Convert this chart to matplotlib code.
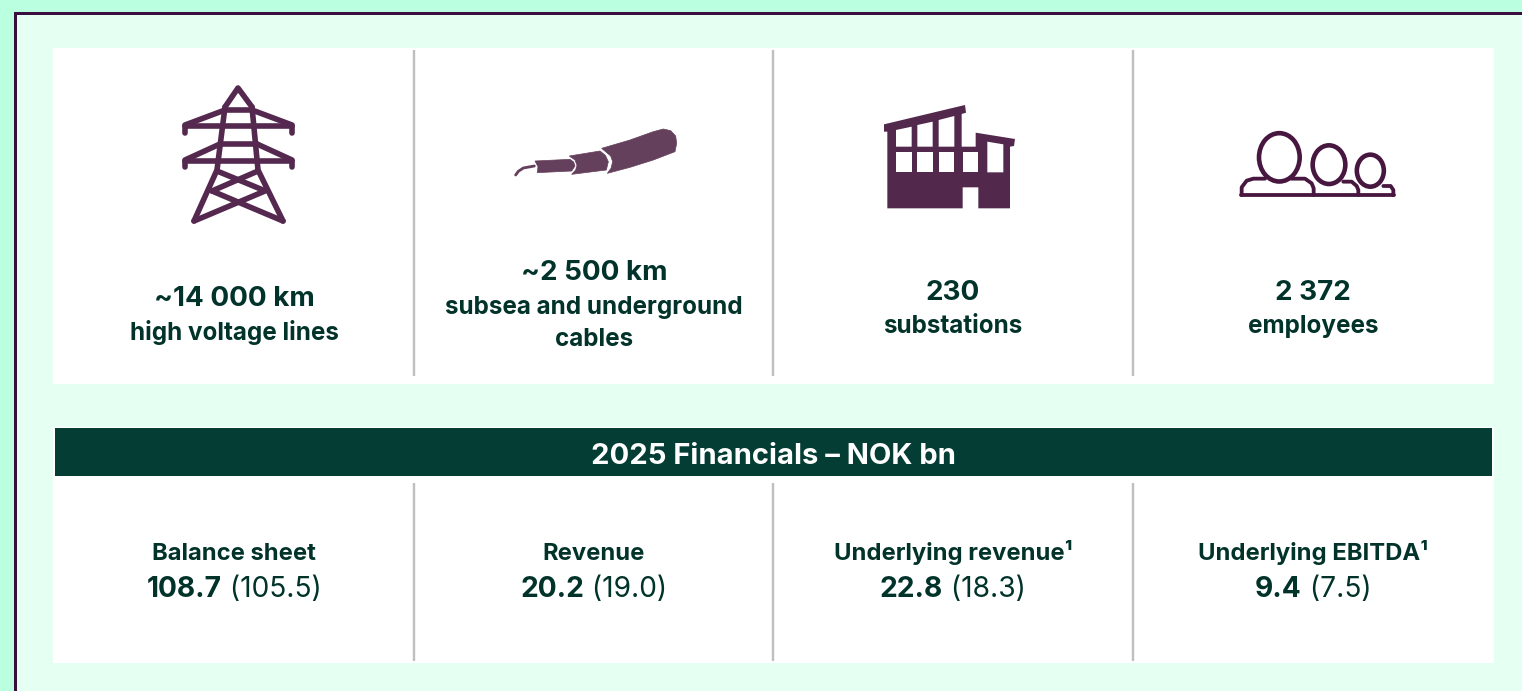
import matplotlib
matplotlib.use("Agg")
import matplotlib.pyplot as plt
from matplotlib.patches import Rectangle, Polygon, Ellipse

# ---- content ----
asset_values = ["~14 000 km", "~2 500 km", "230", "2 372"]
asset_labels = [["high voltage lines"], ["subsea and underground", "cables"], ["substations"], ["employees"]]
band_title = "2025 Financials – NOK bn"
fin_labels = ["Balance sheet", "Revenue", "Underlying revenue¹", "Underlying EBITDA¹"]
fin_current = ["108.7", "20.2", "22.8", "9.4"]
fin_previous = ["(105.5)", "(19.0)", "(18.3)", "(7.5)"]

# ---- style ----
W, H = 1522, 691
OUTER, INNER, FRAME = "#B9FFE0", "#E5FFF3", "#3A0F3F"
GREEN, DIV = "#02332A", "#BFBFBF"
FONT = "Inter"
PX = 72 / 100  # px -> pt
CX = [234, 594, 953, 1313]
DX = [414, 773, 1133]

fig = plt.figure(figsize=(W / 100, H / 100), dpi=100, facecolor=OUTER)
ax = fig.add_axes([0, 0, 1, 1])
ax.set_xlim(0, W)
ax.set_ylim(H, 0)
ax.axis("off")


def rect(x0, y0, x1, y1, fc, ec="none", lw=0, z=1):
    ax.add_patch(Rectangle((x0, y0), x1 - x0, y1 - y0, fc=fc, ec=ec, lw=lw, zorder=z))


rect(14.6, 12.8, W + 20, H + 20, INNER, FRAME, 3 * PX)
rect(53, 48, 1494, 384, "white", z=2)
rect(53, 427, 1494, 663, "white", z=2)
rect(55, 428, 1492, 476, "#033D33", z=3)
for x in DX:
    ax.plot([x, x], [50, 376], color=DIV, lw=2.4 * PX, zorder=3, solid_capstyle="butt")
    ax.plot([x, x], [483, 661], color=DIV, lw=2.4 * PX, zorder=3, solid_capstyle="butt")

# ---- icons (traced in zoomed-crop units: 3x, with an origin) ----
def tr(pts, ox, oy):
    return [(ox + a / 3, oy + b / 3) for a, b in pts]


def line(pts, c, lw):
    xs, ys = zip(*pts)
    ax.plot(xs, ys, color=c, lw=lw * PX, solid_capstyle="round", solid_joinstyle="round", zorder=4)


TOWER = "#55294F"
for seg in [
    [(225, 107), (238, 88), (252, 107)],
    [(225, 107), (217, 170), (194, 221)],
    [(252, 107), (258, 170), (283, 221)],
    [(225, 110), (252, 110)],
    [(225, 110), (185, 125), (185, 133)],
    [(252, 110), (292, 125), (292, 133)],
    [(185, 126), (292, 126)],
    [(220, 144), (257, 144)],
    [(220, 144), (185, 160), (185, 167)],
    [(257, 144), (292, 160), (292, 167)],
    [(185, 161), (292, 161)],
    [(217, 171), (263, 190)],
    [(258, 171), (212, 191)],
    [(212, 191), (283, 221)],
    [(265, 191), (194, 221)],
]:
    line(seg, TOWER, 5.6)

CABLE = "#65405C"
for poly in [
    [(365, 175), (450, 150), (520, 125), (550, 117), (572, 122), (587, 138), (590, 160), (585, 185), (520, 210),
     (450, 232), (382, 250), (393, 235), (398, 215), (392, 198)],
    [(268, 198), (360, 183), (376, 196), (385, 215), (379, 240), (275, 253), (287, 240), (291, 226), (285, 210)],
    [(165, 213), (270, 208), (281, 216), (285, 228), (275, 243), (172, 248), (174, 230)],
]:
    ax.add_patch(Polygon(tr(poly, 480, 90), closed=True, fc=CABLE, ec=CABLE, lw=0.5, joinstyle="round", zorder=4))
line(tr([(107, 255), (115, 244), (130, 234), (163, 228)], 480, 90), CABLE, 2.8)

BLD = "#52284C"
ax.add_patch(Polygon(tr([(72, 103), (315, 45), (318, 68), (305, 72), (305, 170), (347, 170), (347, 128),
                         (465, 147), (462, 168), (450, 170), (450, 355), (355, 355), (355, 292), (308, 292),
                         (308, 355), (82, 355), (82, 125), (72, 125)], 860, 90),
                     closed=True, fc=BLD, ec="none", zorder=4))
for win in [
    [(108, 120), (155, 110), (155, 170), (108, 170)],
    [(172, 105), (218, 95), (218, 170), (172, 170)],
    [(236, 90), (283, 78), (283, 170), (236, 170)],
    [(108, 187), (155, 187), (155, 247), (108, 247)],
    [(172, 187), (218, 187), (218, 247), (172, 247)],
    [(236, 187), (283, 187), (283, 247), (236, 247)],
    [(308, 187), (355, 187), (355, 247), (308, 247)],
    [(382, 155), (430, 163), (430, 247), (382, 247)],
]:
    ax.add_patch(Polygon(tr(win, 860, 90), closed=True, fc="white", ec="none", zorder=5))

PPL = "#47173F"
for (a, b, w, h) in [(178, 142, 122, 145), (327, 164, 98, 116), (451, 182, 81, 96)]:
    (x, y), = tr([(a, b)], 1220, 110)
    ax.add_patch(Ellipse((x, y), w / 3, h / 3, fc="white", ec=PPL, lw=4.6 * PX, zorder=6))
for seg in [
    [(62, 255), (522, 255)],
    [(65, 255), (65, 232), (80, 212), (100, 206), (135, 206)],
    [(215, 206), (255, 206), (275, 220), (281, 235), (281, 255)],
    [(370, 215), (395, 215), (410, 228), (415, 240), (415, 255)],
    [(490, 228), (512, 228), (520, 240), (520, 255)],
]:
    line(tr(seg, 1220, 110), PPL, 3.8)

# ---- text ----
LARGE = 27.8 * PX
MID = 24.2 * PX
FIN_LBL = 23.8 * PX
FIN_VAL = 28.2 * PX


def txt(x, y, s, size, weight="bold", c=GREEN, ha="center"):
    return ax.text(x, y, s, fontsize=size, fontweight=weight, color=c, ha=ha, va="baseline",
                   family=FONT, zorder=7)


val_base = [306, 280, 300, 300]
lbl_base = [[340], [314, 346], [333], [333]]
for x, v, ls, vy, lys in zip(CX, asset_values, asset_labels, val_base, lbl_base):
    txt(x, vy, v, LARGE)
    for l, ly in zip(ls, lys):
        txt(x, ly, l, MID)

txt(773, 464, band_title, 29.2 * PX, c="white")

rend = fig.canvas.get_renderer()
for x, lab, cur, prev in zip(CX, fin_labels, fin_current, fin_previous):
    txt(x, 560, lab, FIN_LBL)
    a = txt(0, 597, cur, FIN_VAL)
    b = txt(0, 597, " " + prev, FIN_VAL, weight="normal")
    a.set_ha("left")
    b.set_ha("left")
    wa = a.get_window_extent(rend).width
    wb = b.get_window_extent(rend).width
    left = x - (wa + wb) / 2
    a.set_x(left)
    b.set_x(left + wa)

fig.savefig("out.png", dpi=100, facecolor=OUTER)
